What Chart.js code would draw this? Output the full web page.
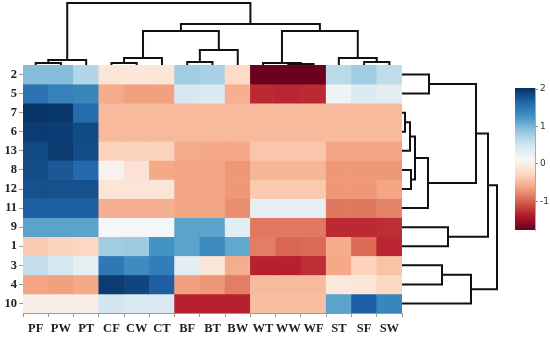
<!DOCTYPE html>
<html><head><meta charset="utf-8">
<script src="https://cdn.jsdelivr.net/npm/chart.js@4"></script>
<style>
html,body{margin:0;padding:0;background:#fff;}
#wrap{position:relative;width:550px;height:339px;overflow:hidden;background:#fff;}
#wrap canvas{position:absolute;left:0;top:0;}
</style></head><body>
<div id="wrap">
<canvas id="heat" width="550" height="339"></canvas>
<canvas id="topd" width="550" height="339"></canvas>
<canvas id="rightd" width="550" height="339"></canvas>
<canvas id="cbar" width="550" height="339"></canvas>
</div>
<script>
// ---------- DATA ----------
const columns = ['PF','PW','PT','CF','CW','CT','BF','BT','BW','WT','WW','WF','ST','SF','SW'];
const rowLabels = ['2','5','7','6','13','8','12','11','9','1','3','4','10'];

const r2  = [0.95,0.95,0.70, -0.12,-0.10,-0.12, 0.80,0.75,-0.25, -1.75,-1.75,-1.75, 0.65,0.80,0.62];
const r5  = [1.55,1.42,1.38, -0.58,-0.65,-0.65, 0.45,0.40,-0.55, -1.30,-1.32,-1.30, 0.22,0.40,0.33];
const r7  = [2.00,1.98,1.60, -0.48,-0.48,-0.48, -0.48,-0.48,-0.48, -0.48,-0.48,-0.48, -0.48,-0.48,-0.48];
const r6  = [1.95,1.93,1.85, -0.48,-0.48,-0.48, -0.48,-0.48,-0.48, -0.48,-0.48,-0.48, -0.48,-0.48,-0.48];
const r13 = [1.85,1.95,1.83, -0.30,-0.30,-0.30, -0.58,-0.60,-0.60, -0.40,-0.40,-0.40, -0.62,-0.62,-0.62];
const r8  = [1.83,1.75,1.62, 0.05,-0.15,-0.60, -0.62,-0.62,-0.70, -0.52,-0.52,-0.52, -0.70,-0.70,-0.70];
const r12 = [1.80,1.80,1.80, -0.12,-0.12,-0.12, -0.62,-0.62,-0.70, -0.38,-0.38,-0.38, -0.70,-0.70,-0.62];
const r11 = [1.70,1.70,1.70, -0.55,-0.55,-0.55, -0.62,-0.62,-0.75, 0.30,0.30,0.30, -0.88,-0.88,-0.82];
const r9  = [1.15,1.15,1.15, 0.15,0.15,0.15, 1.15,1.15,0.33, -0.87,-0.87,-0.87, -1.30,-1.30,-1.28];
const r1  = [-0.38,-0.30,-0.28, 0.80,0.82,1.27, 1.15,1.35,1.12, -0.85,-0.97,-0.95, -0.58,-0.95,-1.32];
const r3  = [0.60,0.47,0.30, 1.50,1.33,1.45, 0.33,-0.12,-0.57, -1.35,-1.35,-1.28, -0.60,-0.30,-0.42];
const r4  = [-0.62,-0.65,-0.60, 1.95,1.88,1.70, -0.65,-0.70,-0.85, -0.48,-0.48,-0.48, -0.08,-0.10,-0.28];
const r10 = [0.00,0.00,0.00, 0.50,0.43,0.43, -1.35,-1.35,-1.35, -0.45,-0.45,-0.45, 1.15,1.70,1.38];
const rows = [r2,r5,r7,r6,r13,r8,r12,r11,r9,r1,r3,r4,r10];

// linkage: [left node, right node, merge height]; leaves 0..n-1 in display order
const colLinkage = [[0,1,2],[15,2,5],[3,4,2],[17,5,7],[6,7,3],[19,8,15],[18,20,34],
                    [10,11,1],[9,22,2],[13,14,3],[12,24,7],[23,25,34],[21,26,41],[16,27,62]];
const rowLinkage = [[0,1,27],[2,3,3],[14,4,8],[5,6,9],[15,16,13],[17,7,26],[13,18,74],
                    [8,9,46],[19,20,86],[10,11,40],[22,12,69],[21,23,95]];

const colorTicks = [2,1,0,-1];
const vmin = -1.77, vmax = 2.03;

// ---------- COLOR MAP (RdBu) ----------
const rdbu = ['#67001f','#b2182b','#d6604d','#f4a582','#fddbc7','#f7f7f7','#d1e5f0','#92c5de','#4393c3','#2166ac','#053061'];
function hex2rgb(h){return [parseInt(h.slice(1,3),16),parseInt(h.slice(3,5),16),parseInt(h.slice(5,7),16)];}
const rdbuRGB = rdbu.map(hex2rgb);
function colorFor(v){
  let t = (v - vmin)/(vmax - vmin); t = Math.max(0,Math.min(1,t));
  const p = t*(rdbu.length-1); const i = Math.min(Math.floor(p), rdbu.length-2); const f = p - i;
  const a = rdbuRGB[i], b = rdbuRGB[i+1];
  return 'rgb('+a.map((c,k)=>Math.round(c+(b[k]-c)*f)).join(',')+')';
}

const labelFont = {family:'"Liberation Serif", "DejaVu Serif", serif', size:12.5, weight:'bold'};
Chart.defaults.animation = false;
const noPlug = {legend:{display:false},tooltip:{enabled:false}};

// ---------- HEATMAP ----------
new Chart(document.getElementById('heat'), {
  type:'bar',
  data:{
    labels: columns,
    datasets: rows.map((r,i)=>({
      label: rowLabels[i],
      data: r.map(()=>1),
      backgroundColor: r.map(colorFor),
      borderWidth: 0,
      barPercentage: 1, categoryPercentage: 1,
      stack: 's'
    }))
  },
  options:{
    responsive:false,
    layout:{padding:{left:0,right:148,top:65,bottom:0}},
    plugins:noPlug,
    scales:{
      x:{
        stacked:true,
        grid:{display:true,drawOnChartArea:false,drawTicks:true,tickLength:4,color:'#999'},
        border:{display:true,color:'#999'},
        ticks:{font:labelFont,color:'#222',padding:4,maxRotation:0,autoSkip:false},
        afterFit:(s)=>{s.height=26;}
      },
      y:{
        stacked:true, reverse:true, min:0, max:rows.length,
        grid:{display:true,drawOnChartArea:false,drawTicks:true,tickLength:4,color:'#999'},
        border:{display:true,color:'#999'},
        afterBuildTicks:(s)=>{s.ticks = rowLabels.map((_,i)=>({value:i+0.5}));},
        ticks:{font:labelFont,color:'#222',padding:2,autoSkip:false,
               callback:(v)=>rowLabels[Math.floor(v)]},
        afterFit:(s)=>{s.width=23;}
      }
    }
  }
});

// ---------- DENDROGRAMS ----------
function dendro(link, n){
  const pos=[], hgt=[], segs=[];
  for(let i=0;i<n;i++){pos[i]=i+0.5;hgt[i]=0;}
  link.forEach(([a,b,h],k)=>{
    segs.push([[pos[a],hgt[a]],[pos[a],h],[pos[b],h],[pos[b],hgt[b]]]);
    pos[n+k]=(pos[a]+pos[b])/2; hgt[n+k]=h;
  });
  return segs;
}
const lineStyle = {borderColor:'#111',borderWidth:2,pointRadius:0,showLine:true,fill:false,tension:0,clip:false};

new Chart(document.getElementById('topd'), {
  type:'scatter',
  data:{datasets: dendro(colLinkage, columns.length).map(s=>Object.assign({data:s.map(([p,h])=>({x:p,y:h}))},lineStyle))},
  options:{
    responsive:false,
    layout:{padding:{left:23,right:148,top:0,bottom:274}},
    plugins:noPlug,
    scales:{x:{type:'linear',display:false,min:0,max:columns.length},
            y:{type:'linear',display:false,min:0,max:65}}
  }
});

new Chart(document.getElementById('rightd'), {
  type:'scatter',
  data:{datasets: dendro(rowLinkage, rowLabels.length).map(s=>Object.assign({data:s.map(([p,h])=>({x:h,y:p}))},lineStyle))},
  options:{
    responsive:false,
    layout:{padding:{left:402,right:38,top:65,bottom:26}},
    plugins:noPlug,
    scales:{x:{type:'linear',display:false,min:0,max:110},
            y:{type:'linear',display:false,reverse:true,min:0,max:rowLabels.length}}
  }
});

// ---------- COLOR BAR ----------
new Chart(document.getElementById('cbar'), {
  type:'bar',
  data:{labels:[''],datasets:[{
    data:[[vmin,vmax]],
    barPercentage:1,categoryPercentage:1,borderWidth:0,
    backgroundColor:(ctx)=>{
      const ca = ctx.chart.chartArea; if(!ca) return '#ccc';
      const g = ctx.chart.ctx.createLinearGradient(0,ca.bottom,0,ca.top);
      rdbu.forEach((c,i)=>g.addColorStop(i/(rdbu.length-1),c));
      return g;
    }
  }]},
  options:{
    responsive:false,
    layout:{padding:{left:515,right:0,top:88,bottom:109}},
    plugins:noPlug,
    scales:{
      x:{display:false},
      y:{position:'right',min:vmin,max:vmax,
         grid:{display:true,drawOnChartArea:false,drawTicks:true,tickLength:3,color:'#888'},
         border:{display:true,color:'#aaa'},
         afterBuildTicks:(s)=>{s.ticks=colorTicks.map(v=>({value:v}));},
         ticks:{font:{family:'"DejaVu Sans", sans-serif',size:9},color:'#333',padding:2},
         afterFit:(s)=>{s.width=15;}}
    }
  }
});
</script>
</body></html>
